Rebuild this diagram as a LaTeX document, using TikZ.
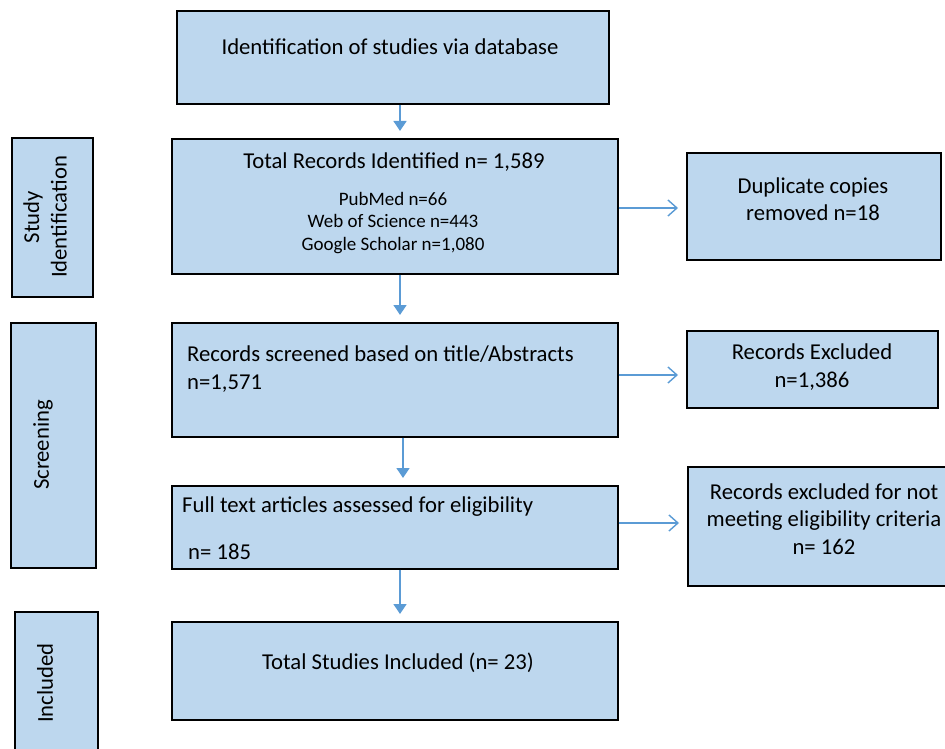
\documentclass[tikz,border=0pt]{standalone}
\usepackage{fontspec}
\setmainfont{Carlito}
\usetikzlibrary{arrows.meta}
\definecolor{boxfill}{HTML}{BDD7EE}
\definecolor{arrowblue}{HTML}{5B9BD5}
\begin{document}
\begin{tikzpicture}[x=1pt,y=-1pt,
  box/.style={draw=black,fill=boxfill,line width=1.6pt,rectangle,inner sep=0pt,anchor=north west},
  txt/.style={inner sep=0pt,font=\fontsize{22.7}{27.5}\selectfont,align=center},
  small/.style={inner sep=0pt,font=\fontsize{19}{22.5}\selectfont,align=center},
  down/.style={draw=arrowblue,line width=1.4pt,-{Triangle[width=13pt,length=10pt]},shorten >=7pt},
  right/.style={draw=arrowblue,line width=1.4pt,-{Straight Barb[width=16pt,length=9pt,line width=1.4pt]},shorten >=8pt}]
\useasboundingbox (0,0) rectangle (945,749);
% boxes
\node[box,minimum width=432pt,minimum height=93pt] (A) at (176,10) {};
\node[box,minimum width=446pt,minimum height=135pt] (B) at (171,138) {};
\node[box,minimum width=254pt,minimum height=107pt] (C) at (686,152) {};
\node[box,minimum width=446pt,minimum height=114pt] (D) at (171,322) {};
\node[box,minimum width=251pt,minimum height=77pt] (E) at (686,330) {};
\node[box,minimum width=446pt,minimum height=83pt] (F) at (171,485) {};
\node[box,minimum width=262pt,minimum height=119pt] (G) at (687,466) {};
\node[box,minimum width=446pt,minimum height=98pt] (H) at (171,621) {};
\node[box,minimum width=81pt,minimum height=159pt] (L1) at (11,137) {};
\node[box,minimum width=85pt,minimum height=245pt] (L2) at (10,322) {};
\node[box,minimum width=83pt,minimum height=150pt] (L3) at (14,611) {};
% texts
\node[txt] (tA) at (390,47) {Identification of studies via database};
\node[txt] (tB) at (394,162) {Total Records Identified n= 1,589};
\node[small] (tB2) at (393,223) {PubMed n=66\\Web of Science n=443\\Google Scholar n=1,080};
\node[txt] (tC) at (813,199) {Duplicate copies\\removed n=18};
\node[txt,align=left,anchor=west] (tD) at (187,369) {Records screened based on title/Abstracts\\n=1,571};
\node[txt] (tE) at (812,367) {Records Excluded\\n=1,386};
\node[txt,anchor=west] (tF1) at (182,507) {Full text articles assessed for eligibility};
\node[txt,anchor=west] (tF2) at (188,552) {n= 185};
\node[txt] (tG) at (824,519) {Records excluded for not\\meeting eligibility criteria\\n= 162};
\node[txt] (tH) at (398,663) {Total Studies Included (n= 23)};
\node[txt,rotate=90] (tL1) at (45,217) {Study\\Identification};
\node[txt,rotate=90] (tL2) at (43,445) {Screening};
\node[txt,rotate=90] (tL3) at (45,683) {Included};
% arrows
\draw[down] (A.south -| 400,0) -- (B.north -| 400,0);
\draw[down] (B.south -| 400,0) -- (D.north -| 400,0);
\draw[down] (D.south -| 403,0) -- (F.north -| 403,0);
\draw[down] (F.south -| 400,0) -- (H.north -| 400,0);
\draw[right] (B.east |- 0,208) -- (C.west |- 0,208);
\draw[right] (D.east |- 0,375) -- (E.west |- 0,375);
\draw[right] (F.east |- 0,523) -- (G.west |- 0,523);
\end{tikzpicture}
\end{document}
